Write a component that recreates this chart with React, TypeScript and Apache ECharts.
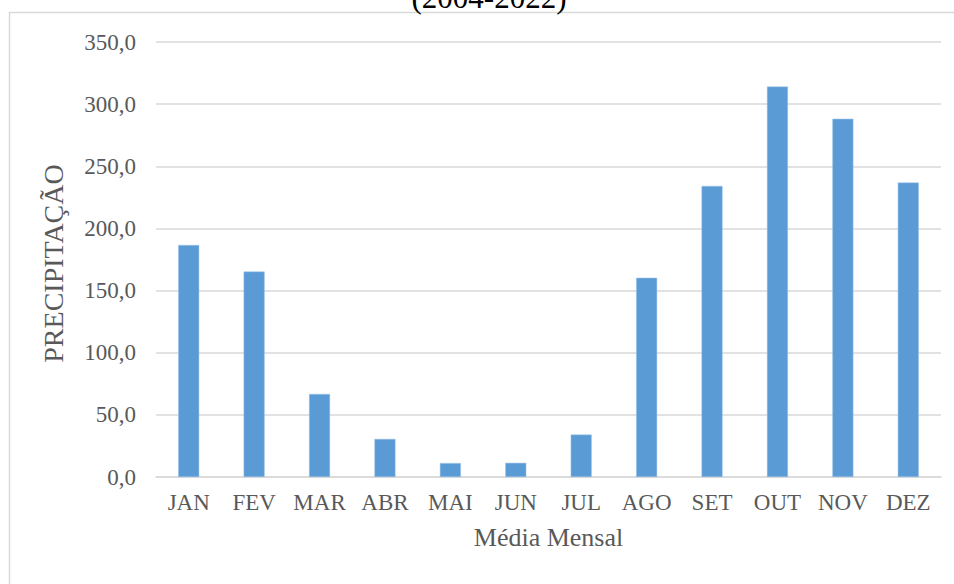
import React, { useEffect, useRef } from "react";
import * as echarts from "echarts";

// Mean monthly precipitation, 2004–2022
const months = ["JAN", "FEV", "MAR", "ABR", "MAI", "JUN", "JUL", "AGO", "SET", "OUT", "NOV", "DEZ"];
const precipitation = [186.7, 165.3, 66.8, 30.6, 11.2, 11.4, 34.1, 160.3, 234.2, 314.1, 288.2, 236.9];
const titleText = "(2004-2022)";
const yAxisName = "PRECIPITAÇÃO";
const xAxisName = "Média Mensal";

const SERIF = "Liberation Serif";
const TEXT = "#595959";
const GRID_LINE = "#d9d9d9";

export default function App() {
  const ref = useRef<HTMLDivElement>(null);

  useEffect(() => {
    if (!ref.current) return;
    const chart = echarts.init(ref.current, undefined, { renderer: "svg" });
    chart.setOption({
      animation: false,
      backgroundColor: "#ffffff",
      graphic: [
        {
          type: "rect",
          shape: { x: 9.5, y: 12.5, width: 1000, height: 700 },
          style: { fill: "none", stroke: GRID_LINE, lineWidth: 1.5 },
          silent: true,
        },
        {
          type: "text",
          x: 489,
          y: 13,
          style: {
            text: titleText,
            fill: "#000000",
            fontFamily: SERIF,
            fontSize: 31,
            align: "center",
            verticalAlign: "bottom",
          },
        },
      ],
      grid: { left: 156, right: 13, top: 42, bottom: 107, containLabel: false },
      xAxis: {
        type: "category",
        data: months,
        axisLine: { lineStyle: { color: GRID_LINE, width: 1.5 } },
        axisTick: { show: false },
        axisLabel: { color: TEXT, fontFamily: SERIF, fontSize: 23, margin: 14, interval: 0 },
        name: xAxisName,
        nameLocation: "middle",
        nameGap: 47,
        nameTextStyle: { color: TEXT, fontFamily: SERIF, fontSize: 26 },
      },
      yAxis: {
        type: "value",
        min: 0,
        max: 350,
        interval: 50,
        axisLine: { show: false },
        axisTick: { show: false },
        splitLine: { lineStyle: { color: GRID_LINE, width: 1.5 } },
        axisLabel: {
          color: TEXT,
          fontFamily: SERIF,
          fontSize: 23,
          margin: 20,
          formatter: (v: number) => v.toFixed(1).replace(".", ","),
        },
        name: yAxisName,
        nameLocation: "middle",
        nameGap: 89,
        nameRotate: 90,
        nameTextStyle: { color: TEXT, fontFamily: SERIF, fontSize: 28, padding: [0, 8, 0, 0] },
      },
      series: [
        {
          type: "bar",
          data: precipitation,
          barWidth: 21,
          itemStyle: { color: "#5b9bd5", borderColor: "#9dc3e6", borderWidth: 0.5 },
        },
      ],
    });
    return () => chart.dispose();
  }, []);

  return (
    <div
      ref={ref}
      style={{ position: "absolute", left: 0, top: 0, width: 954, height: 584 }}
    />
  );
}
